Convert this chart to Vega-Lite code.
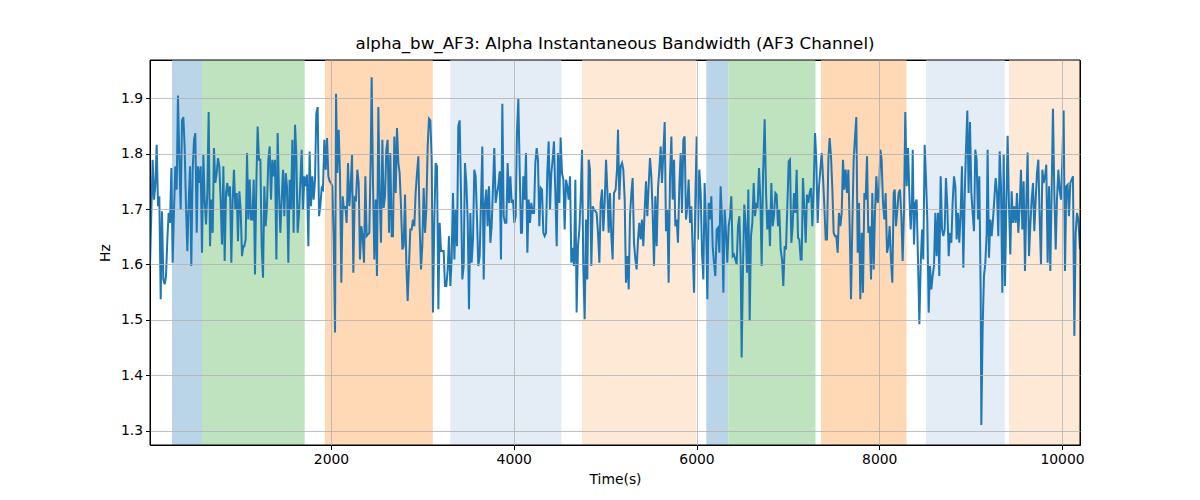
{
"$schema": "https://vega.github.io/schema/vega-lite/v6.json",
"width": 930,
"height": 385,
"autosize": "none",
"padding": {"left": 150, "top": 60, "right": 120, "bottom": 55},
"background": "white",
"title": {"text": "alpha_bw_AF3: Alpha Instantaneous Bandwidth (AF3 Channel)", "font": "DejaVu Sans", "fontSize": 16.7, "fontWeight": "normal", "color": "black", "offset": 7},
"config": {
  "view": {"stroke": "black", "strokeWidth": 1},
  "axis": {"labelFont": "DejaVu Sans", "titleFont": "DejaVu Sans", "labelFontSize": 13.9, "titleFontSize": 13.9, "titleFontWeight": "normal", "labelColor": "black", "titleColor": "black", "tickColor": "black", "tickSize": 4.5, "domain": false, "grid": true, "gridColor": "#b0b0b0", "gridWidth": 0.8}
},
"datasets": {
"bands": [
{"s": 260, "e": 588, "p": "A"},
{"s": 588, "e": 1712, "p": "B"},
{"s": 1934, "e": 3114, "p": "C"},
{"s": 3305, "e": 4522, "p": "D"},
{"s": 4747, "e": 5997, "p": "E"},
{"s": 6107, "e": 6347, "p": "A"},
{"s": 6347, "e": 7302, "p": "B"},
{"s": 7362, "e": 8298, "p": "C"},
{"s": 8512, "e": 9374, "p": "D"},
{"s": 9420, "e": 10197, "p": "E"}
],
"series": [
{"t":19,"v":1.597},{"t":48,"v":1.789},{"t":63,"v":1.717},{"t":77,"v":1.741},{"t":92,"v":1.816},{"t":107,"v":1.705},{"t":121,"v":1.723},{"t":136,"v":1.537},{"t":150,"v":1.696},{"t":165,"v":1.573},{"t":180,"v":1.564},{"t":194,"v":1.579},{"t":209,"v":1.645},{"t":223,"v":1.693},{"t":238,"v":1.675},{"t":253,"v":1.774},{"t":267,"v":1.603},{"t":282,"v":1.699},{"t":296,"v":1.777},{"t":311,"v":1.735},{"t":325,"v":1.905},{"t":340,"v":1.789},{"t":355,"v":1.699},{"t":369,"v":1.860},{"t":384,"v":1.866},{"t":398,"v":1.813},{"t":413,"v":1.705},{"t":428,"v":1.624},{"t":442,"v":1.711},{"t":457,"v":1.777},{"t":471,"v":1.597},{"t":486,"v":1.771},{"t":501,"v":1.825},{"t":515,"v":1.837},{"t":530,"v":1.657},{"t":544,"v":1.777},{"t":559,"v":1.747},{"t":574,"v":1.777},{"t":588,"v":1.621},{"t":603,"v":1.798},{"t":617,"v":1.717},{"t":632,"v":1.672},{"t":646,"v":1.729},{"t":661,"v":1.875},{"t":676,"v":1.633},{"t":690,"v":1.717},{"t":705,"v":1.657},{"t":719,"v":1.810},{"t":734,"v":1.747},{"t":749,"v":1.765},{"t":763,"v":1.792},{"t":778,"v":1.777},{"t":792,"v":1.717},{"t":807,"v":1.636},{"t":822,"v":1.777},{"t":836,"v":1.606},{"t":851,"v":1.729},{"t":865,"v":1.747},{"t":880,"v":1.723},{"t":895,"v":1.741},{"t":909,"v":1.603},{"t":924,"v":1.717},{"t":938,"v":1.771},{"t":953,"v":1.699},{"t":968,"v":1.729},{"t":982,"v":1.642},{"t":997,"v":1.732},{"t":1011,"v":1.699},{"t":1026,"v":1.615},
{"t":1040,"v":1.633},{"t":1051,"v":1.633},{"t":1066,"v":1.645},{"t":1081,"v":1.801},{"t":1095,"v":1.681},{"t":1110,"v":1.753},{"t":1124,"v":1.681},{"t":1139,"v":1.681},{"t":1154,"v":1.753},{"t":1168,"v":1.582},{"t":1183,"v":1.747},{"t":1197,"v":1.849},{"t":1212,"v":1.789},{"t":1227,"v":1.789},{"t":1241,"v":1.633},{"t":1256,"v":1.576},{"t":1270,"v":1.741},{"t":1285,"v":1.669},{"t":1299,"v":1.705},{"t":1314,"v":1.789},{"t":1329,"v":1.813},{"t":1343,"v":1.717},{"t":1358,"v":1.789},{"t":1372,"v":1.759},{"t":1387,"v":1.789},{"t":1402,"v":1.609},{"t":1416,"v":1.837},{"t":1431,"v":1.729},{"t":1445,"v":1.657},{"t":1460,"v":1.717},{"t":1475,"v":1.771},{"t":1489,"v":1.687},{"t":1504,"v":1.765},{"t":1518,"v":1.741},{"t":1533,"v":1.603},{"t":1547,"v":1.753},{"t":1562,"v":1.699},{"t":1577,"v":1.825},{"t":1591,"v":1.657},{"t":1606,"v":1.852},{"t":1620,"v":1.801},{"t":1635,"v":1.657},{"t":1650,"v":1.693},{"t":1664,"v":1.747},{"t":1679,"v":1.807},{"t":1693,"v":1.699},{"t":1708,"v":1.759},{"t":1723,"v":1.741},{"t":1737,"v":1.762},{"t":1752,"v":1.633},{"t":1766,"v":1.804},{"t":1781,"v":1.705},{"t":1796,"v":1.759},{"t":1810,"v":1.717},{"t":1825,"v":1.753},{"t":1839,"v":1.872},{"t":1854,"v":1.884},{"t":1869,"v":1.687},{"t":1883,"v":1.705},{"t":1898,"v":1.738},{"t":1912,"v":1.735},{"t":1927,"v":1.825},{"t":1942,"v":1.771},{"t":1956,"v":1.828},{"t":1971,"v":1.759},{"t":1985,"v":1.750},{"t":2000,"v":1.747},{"t":2014,"v":1.741},{"t":2029,"v":1.650},{"t":2044,"v":1.477},
{"t":2055,"v":1.908},{"t":2069,"v":1.765},{"t":2084,"v":1.843},{"t":2098,"v":1.765},{"t":2113,"v":1.567},{"t":2128,"v":1.723},{"t":2142,"v":1.699},{"t":2157,"v":1.705},{"t":2171,"v":1.675},{"t":2186,"v":1.783},{"t":2201,"v":1.705},{"t":2215,"v":1.741},{"t":2230,"v":1.798},{"t":2244,"v":1.585},{"t":2259,"v":1.720},{"t":2273,"v":1.717},{"t":2288,"v":1.771},{"t":2303,"v":1.747},{"t":2317,"v":1.609},{"t":2332,"v":1.669},{"t":2346,"v":1.651},{"t":2361,"v":1.603},{"t":2376,"v":1.759},{"t":2390,"v":1.651},{"t":2405,"v":1.654},{"t":2419,"v":1.657},{"t":2434,"v":1.789},{"t":2445,"v":1.938},{"t":2460,"v":1.741},{"t":2474,"v":1.609},{"t":2489,"v":1.717},{"t":2503,"v":1.579},{"t":2518,"v":1.884},{"t":2532,"v":1.729},{"t":2547,"v":1.639},{"t":2562,"v":1.825},{"t":2576,"v":1.702},{"t":2591,"v":1.723},{"t":2605,"v":1.807},{"t":2620,"v":1.825},{"t":2635,"v":1.657},{"t":2649,"v":1.801},{"t":2664,"v":1.651},{"t":2678,"v":1.651},{"t":2693,"v":1.831},{"t":2708,"v":1.729},{"t":2722,"v":1.846},{"t":2737,"v":1.783},{"t":2751,"v":1.765},{"t":2766,"v":1.705},{"t":2781,"v":1.627},{"t":2795,"v":1.633},{"t":2810,"v":1.726},{"t":2824,"v":1.603},{"t":2839,"v":1.534},{"t":2853,"v":1.597},{"t":2868,"v":1.663},{"t":2883,"v":1.663},{"t":2897,"v":1.681},{"t":2912,"v":1.669},{"t":2926,"v":1.729},{"t":2941,"v":1.765},{"t":2956,"v":1.795},{"t":2970,"v":1.669},{"t":2985,"v":1.591},{"t":2999,"v":1.633},{"t":3014,"v":1.738},{"t":3029,"v":1.657},{"t":3043,"v":1.699},{"t":3058,"v":1.813},{"t":3072,"v":1.863},
{"t":3087,"v":1.860},{"t":3102,"v":1.789},{"t":3116,"v":1.513},{"t":3131,"v":1.681},{"t":3145,"v":1.783},{"t":3160,"v":1.777},{"t":3175,"v":1.519},{"t":3189,"v":1.675},{"t":3204,"v":1.624},{"t":3218,"v":1.624},{"t":3233,"v":1.624},{"t":3247,"v":1.561},{"t":3262,"v":1.561},{"t":3277,"v":1.591},{"t":3291,"v":1.651},{"t":3306,"v":1.561},{"t":3320,"v":1.609},{"t":3335,"v":1.729},{"t":3350,"v":1.609},{"t":3364,"v":1.699},{"t":3379,"v":1.633},{"t":3393,"v":1.849},{"t":3408,"v":1.860},{"t":3423,"v":1.723},{"t":3437,"v":1.573},{"t":3452,"v":1.597},{"t":3466,"v":1.783},{"t":3481,"v":1.747},{"t":3496,"v":1.681},{"t":3510,"v":1.519},{"t":3525,"v":1.693},{"t":3539,"v":1.603},{"t":3554,"v":1.645},{"t":3568,"v":1.771},{"t":3583,"v":1.759},{"t":3598,"v":1.681},{"t":3612,"v":1.597},{"t":3627,"v":1.615},{"t":3642,"v":1.717},{"t":3656,"v":1.813},{"t":3671,"v":1.573},{"t":3685,"v":1.711},{"t":3700,"v":1.735},{"t":3714,"v":1.669},{"t":3729,"v":1.741},{"t":3744,"v":1.639},{"t":3758,"v":1.669},{"t":3773,"v":1.741},{"t":3787,"v":1.810},{"t":3802,"v":1.711},{"t":3817,"v":1.729},{"t":3831,"v":1.741},{"t":3846,"v":1.768},{"t":3860,"v":1.609},{"t":3875,"v":1.890},{"t":3890,"v":1.687},{"t":3904,"v":1.675},{"t":3919,"v":1.675},{"t":3933,"v":1.783},{"t":3948,"v":1.711},{"t":3963,"v":1.759},{"t":3977,"v":1.711},{"t":3992,"v":1.717},{"t":4006,"v":1.675},{"t":4021,"v":1.687},{"t":4035,"v":1.837},{"t":4050,"v":1.899},{"t":4065,"v":1.771},{"t":4079,"v":1.657},
{"t":4090,"v":1.657},{"t":4105,"v":1.759},{"t":4119,"v":1.717},{"t":4134,"v":1.801},{"t":4149,"v":1.621},{"t":4163,"v":1.717},{"t":4178,"v":1.675},{"t":4192,"v":1.711},{"t":4207,"v":1.693},{"t":4222,"v":1.693},{"t":4236,"v":1.783},{"t":4251,"v":1.810},{"t":4265,"v":1.789},{"t":4280,"v":1.669},{"t":4295,"v":1.738},{"t":4309,"v":1.735},{"t":4324,"v":1.657},{"t":4338,"v":1.651},{"t":4353,"v":1.657},{"t":4367,"v":1.765},{"t":4382,"v":1.822},{"t":4397,"v":1.699},{"t":4411,"v":1.765},{"t":4426,"v":1.789},{"t":4440,"v":1.822},{"t":4455,"v":1.729},{"t":4470,"v":1.633},{"t":4484,"v":1.801},{"t":4499,"v":1.711},{"t":4513,"v":1.829},{"t":4528,"v":1.765},{"t":4543,"v":1.753},{"t":4557,"v":1.663},{"t":4572,"v":1.753},{"t":4586,"v":1.741},{"t":4601,"v":1.717},{"t":4616,"v":1.759},{"t":4630,"v":1.603},{"t":4645,"v":1.630},{"t":4659,"v":1.597},{"t":4674,"v":1.753},{"t":4688,"v":1.513},{"t":4703,"v":1.633},{"t":4718,"v":1.663},{"t":4732,"v":1.717},{"t":4747,"v":1.807},{"t":4761,"v":1.597},{"t":4776,"v":1.501},{"t":4791,"v":1.681},{"t":4805,"v":1.573},{"t":4820,"v":1.789},{"t":4834,"v":1.771},{"t":4849,"v":1.597},{"t":4864,"v":1.705},{"t":4878,"v":1.699},{"t":4893,"v":1.696},{"t":4907,"v":1.693},{"t":4922,"v":1.657},{"t":4937,"v":1.603},{"t":4951,"v":1.711},{"t":4966,"v":1.735},{"t":4980,"v":1.660},{"t":4995,"v":1.711},{"t":5010,"v":1.789},{"t":5024,"v":1.735},{"t":5039,"v":1.657},{"t":5053,"v":1.729},{"t":5068,"v":1.651},{"t":5082,"v":1.609},{"t":5097,"v":1.729},
{"t":5115,"v":1.735},{"t":5130,"v":1.771},{"t":5141,"v":1.843},{"t":5155,"v":1.717},{"t":5170,"v":1.777},{"t":5185,"v":1.783},{"t":5199,"v":1.771},{"t":5214,"v":1.717},{"t":5228,"v":1.567},{"t":5243,"v":1.615},{"t":5258,"v":1.555},{"t":5272,"v":1.687},{"t":5287,"v":1.729},{"t":5301,"v":1.756},{"t":5316,"v":1.639},{"t":5331,"v":1.609},{"t":5345,"v":1.591},{"t":5360,"v":1.645},{"t":5374,"v":1.675},{"t":5389,"v":1.645},{"t":5403,"v":1.681},{"t":5418,"v":1.633},{"t":5433,"v":1.699},{"t":5447,"v":1.750},{"t":5462,"v":1.687},{"t":5476,"v":1.741},{"t":5491,"v":1.792},{"t":5506,"v":1.759},{"t":5520,"v":1.693},{"t":5535,"v":1.597},{"t":5549,"v":1.723},{"t":5564,"v":1.633},{"t":5579,"v":1.738},{"t":5593,"v":1.771},{"t":5608,"v":1.813},{"t":5622,"v":1.747},{"t":5637,"v":1.801},{"t":5652,"v":1.857},{"t":5666,"v":1.660},{"t":5681,"v":1.699},{"t":5695,"v":1.567},{"t":5710,"v":1.759},{"t":5725,"v":1.831},{"t":5739,"v":1.717},{"t":5754,"v":1.789},{"t":5768,"v":1.669},{"t":5783,"v":1.681},{"t":5797,"v":1.639},{"t":5812,"v":1.741},{"t":5827,"v":1.801},{"t":5841,"v":1.693},{"t":5856,"v":1.825},{"t":5870,"v":1.831},{"t":5885,"v":1.681},{"t":5900,"v":1.705},{"t":5914,"v":1.753},{"t":5929,"v":1.675},{"t":5943,"v":1.705},{"t":5958,"v":1.627},{"t":5973,"v":1.549},{"t":5987,"v":1.717},{"t":6002,"v":1.831},{"t":6016,"v":1.645},{"t":6031,"v":1.771},{"t":6046,"v":1.729},{"t":6060,"v":1.621},{"t":6075,"v":1.573},{"t":6089,"v":1.747},{"t":6104,"v":1.669},{"t":6119,"v":1.537},
{"t":6133,"v":1.711},{"t":6148,"v":1.681},{"t":6162,"v":1.723},{"t":6177,"v":1.633},{"t":6191,"v":1.603},{"t":6206,"v":1.579},{"t":6221,"v":1.663},{"t":6235,"v":1.666},{"t":6250,"v":1.621},{"t":6264,"v":1.741},{"t":6279,"v":1.681},{"t":6294,"v":1.549},{"t":6308,"v":1.699},{"t":6323,"v":1.657},{"t":6337,"v":1.603},{"t":6352,"v":1.669},{"t":6367,"v":1.687},{"t":6381,"v":1.723},{"t":6396,"v":1.615},{"t":6410,"v":1.618},{"t":6425,"v":1.609},{"t":6440,"v":1.600},{"t":6454,"v":1.669},{"t":6469,"v":1.687},{"t":6483,"v":1.609},{"t":6494,"v":1.432},{"t":6509,"v":1.597},{"t":6523,"v":1.708},{"t":6538,"v":1.669},{"t":6553,"v":1.585},{"t":6567,"v":1.735},{"t":6582,"v":1.498},{"t":6596,"v":1.651},{"t":6611,"v":1.675},{"t":6626,"v":1.747},{"t":6640,"v":1.687},{"t":6655,"v":1.708},{"t":6669,"v":1.705},{"t":6684,"v":1.774},{"t":6699,"v":1.717},{"t":6713,"v":1.597},{"t":6728,"v":1.759},{"t":6746,"v":1.862},{"t":6761,"v":1.729},{"t":6775,"v":1.663},{"t":6790,"v":1.699},{"t":6804,"v":1.633},{"t":6819,"v":1.747},{"t":6834,"v":1.669},{"t":6848,"v":1.687},{"t":6863,"v":1.729},{"t":6877,"v":1.726},{"t":6892,"v":1.669},{"t":6906,"v":1.699},{"t":6921,"v":1.627},{"t":6936,"v":1.609},{"t":6950,"v":1.561},{"t":6965,"v":1.633},{"t":6979,"v":1.627},{"t":6994,"v":1.705},{"t":7009,"v":1.786},{"t":7023,"v":1.789},{"t":7038,"v":1.639},{"t":7052,"v":1.669},{"t":7067,"v":1.729},{"t":7082,"v":1.693},{"t":7096,"v":1.771},{"t":7111,"v":1.648},{"t":7125,"v":1.645},{"t":7140,"v":1.609},
{"t":7151,"v":1.609},{"t":7165,"v":1.756},{"t":7180,"v":1.699},{"t":7195,"v":1.639},{"t":7209,"v":1.726},{"t":7224,"v":1.711},{"t":7238,"v":1.729},{"t":7253,"v":1.738},{"t":7268,"v":1.669},{"t":7282,"v":1.735},{"t":7297,"v":1.837},{"t":7311,"v":1.789},{"t":7326,"v":1.675},{"t":7341,"v":1.741},{"t":7355,"v":1.771},{"t":7370,"v":1.801},{"t":7384,"v":1.759},{"t":7399,"v":1.705},{"t":7414,"v":1.645},{"t":7428,"v":1.645},{"t":7443,"v":1.789},{"t":7457,"v":1.828},{"t":7472,"v":1.795},{"t":7487,"v":1.735},{"t":7501,"v":1.657},{"t":7516,"v":1.651},{"t":7530,"v":1.651},{"t":7545,"v":1.621},{"t":7559,"v":1.693},{"t":7574,"v":1.669},{"t":7589,"v":1.693},{"t":7603,"v":1.789},{"t":7618,"v":1.735},{"t":7632,"v":1.771},{"t":7647,"v":1.729},{"t":7662,"v":1.771},{"t":7676,"v":1.669},{"t":7691,"v":1.537},{"t":7705,"v":1.669},{"t":7720,"v":1.789},{"t":7735,"v":1.831},{"t":7749,"v":1.866},{"t":7764,"v":1.621},{"t":7778,"v":1.711},{"t":7793,"v":1.537},{"t":7808,"v":1.657},{"t":7822,"v":1.549},{"t":7837,"v":1.729},{"t":7851,"v":1.717},{"t":7866,"v":1.795},{"t":7880,"v":1.657},{"t":7895,"v":1.669},{"t":7910,"v":1.573},{"t":7924,"v":1.729},{"t":7939,"v":1.591},{"t":7953,"v":1.693},{"t":7968,"v":1.759},{"t":7983,"v":1.711},{"t":7997,"v":1.729},{"t":8012,"v":1.807},{"t":8026,"v":1.789},{"t":8041,"v":1.711},{"t":8056,"v":1.681},{"t":8070,"v":1.729},{"t":8085,"v":1.621},{"t":8099,"v":1.633},{"t":8114,"v":1.669},{"t":8128,"v":1.609},{"t":8143,"v":1.567},{"t":8158,"v":1.729},
{"t":8169,"v":1.735},{"t":8183,"v":1.669},{"t":8198,"v":1.699},{"t":8212,"v":1.729},{"t":8227,"v":1.735},{"t":8242,"v":1.687},{"t":8256,"v":1.606},{"t":8271,"v":1.699},{"t":8285,"v":1.875},{"t":8300,"v":1.741},{"t":8315,"v":1.810},{"t":8329,"v":1.729},{"t":8344,"v":1.663},{"t":8358,"v":1.711},{"t":8366,"v":1.807},{"t":8380,"v":1.636},{"t":8395,"v":1.711},{"t":8409,"v":1.717},{"t":8424,"v":1.609},{"t":8439,"v":1.492},{"t":8453,"v":1.597},{"t":8468,"v":1.663},{"t":8482,"v":1.609},{"t":8497,"v":1.816},{"t":8512,"v":1.753},{"t":8526,"v":1.681},{"t":8541,"v":1.513},{"t":8555,"v":1.597},{"t":8570,"v":1.555},{"t":8584,"v":1.579},{"t":8599,"v":1.597},{"t":8614,"v":1.693},{"t":8628,"v":1.615},{"t":8643,"v":1.693},{"t":8657,"v":1.579},{"t":8672,"v":1.759},{"t":8687,"v":1.663},{"t":8701,"v":1.651},{"t":8716,"v":1.663},{"t":8730,"v":1.756},{"t":8745,"v":1.705},{"t":8760,"v":1.615},{"t":8774,"v":1.657},{"t":8789,"v":1.639},{"t":8803,"v":1.711},{"t":8818,"v":1.759},{"t":8833,"v":1.741},{"t":8847,"v":1.645},{"t":8862,"v":1.693},{"t":8876,"v":1.639},{"t":8891,"v":1.693},{"t":8905,"v":1.777},{"t":8920,"v":1.594},{"t":8935,"v":1.723},{"t":8949,"v":1.807},{"t":8964,"v":1.878},{"t":8978,"v":1.729},{"t":8993,"v":1.857},{"t":9008,"v":1.729},{"t":9022,"v":1.693},{"t":9037,"v":1.660},{"t":9051,"v":1.807},{"t":9066,"v":1.789},{"t":9081,"v":1.681},{"t":9095,"v":1.759},{"t":9110,"v":1.549},{"t":9117,"v":1.310},{"t":9132,"v":1.489},{"t":9146,"v":1.579},{"t":9161,"v":1.603},{"t":9176,"v":1.657},
{"t":9186,"v":1.807},{"t":9201,"v":1.612},{"t":9216,"v":1.681},{"t":9230,"v":1.651},{"t":9245,"v":1.681},{"t":9259,"v":1.717},{"t":9274,"v":1.756},{"t":9289,"v":1.729},{"t":9303,"v":1.651},{"t":9318,"v":1.804},{"t":9332,"v":1.741},{"t":9347,"v":1.549},{"t":9362,"v":1.798},{"t":9376,"v":1.561},{"t":9391,"v":1.711},{"t":9405,"v":1.832},{"t":9420,"v":1.705},{"t":9434,"v":1.618},{"t":9449,"v":1.732},{"t":9464,"v":1.675},{"t":9478,"v":1.705},{"t":9493,"v":1.675},{"t":9507,"v":1.729},{"t":9522,"v":1.657},{"t":9537,"v":1.705},{"t":9551,"v":1.771},{"t":9566,"v":1.663},{"t":9580,"v":1.750},{"t":9595,"v":1.588},{"t":9610,"v":1.717},{"t":9624,"v":1.802},{"t":9639,"v":1.615},{"t":9653,"v":1.669},{"t":9668,"v":1.717},{"t":9683,"v":1.747},{"t":9697,"v":1.660},{"t":9712,"v":1.717},{"t":9726,"v":1.765},{"t":9741,"v":1.789},{"t":9755,"v":1.687},{"t":9770,"v":1.600},{"t":9785,"v":1.771},{"t":9799,"v":1.747},{"t":9814,"v":1.759},{"t":9828,"v":1.780},{"t":9843,"v":1.603},{"t":9858,"v":1.741},{"t":9872,"v":1.588},{"t":9887,"v":1.735},{"t":9901,"v":1.881},{"t":9916,"v":1.729},{"t":9931,"v":1.627},{"t":9945,"v":1.717},{"t":9960,"v":1.771},{"t":9974,"v":1.735},{"t":9989,"v":1.717},{"t":10004,"v":1.789},{"t":10018,"v":1.878},{"t":10033,"v":1.588},{"t":10047,"v":1.741},{"t":10062,"v":1.744},{"t":10076,"v":1.687},{"t":10091,"v":1.747},{"t":10106,"v":1.753},{"t":10120,"v":1.759},{"t":10135,"v":1.471},{"t":10150,"v":1.657},{"t":10164,"v":1.693},{"t":10179,"v":1.681},{"t":10197,"v":1.627}
]
},
"layer": [
{
  "data": {"name": "bands"},
  "mark": {"type": "rect", "opacity": 1},
  "encoding": {
    "x": {"field": "s", "type": "quantitative", "scale": {"domain": [19, 10197], "nice": false, "zero": false}, "axis": {"title": "Time(s)", "values": [2000, 4000, 6000, 8000, 10000], "format": "d", "labelPadding": 3, "titlePadding": 6, "zindex": 1}},
    "x2": {"field": "e"},
    "color": {"field": "p", "type": "nominal", "scale": {"domain": ["A", "B", "C", "D", "E"], "range": ["#bbd5e8", "#bfe2bf", "#ffd8b6", "#e4ecf6", "#fee9d7"]}, "legend": null}
  }
},
{
  "data": {"name": "series"},
  "mark": {"type": "line", "color": "#1f77b4", "strokeWidth": 2, "clip": true},
  "encoding": {
    "x": {"field": "t", "type": "quantitative"},
    "y": {"field": "v", "type": "quantitative", "scale": {"domain": [1.274, 1.969], "nice": false, "zero": false}, "axis": {"title": "Hz", "values": [1.3, 1.4, 1.5, 1.6, 1.7, 1.8, 1.9], "format": ".1f", "labelPadding": 3, "titlePadding": 8, "zindex": 1}}
  }
},
{
  "data": {"values": [{}]},
  "mark": {"type": "rect", "fill": null, "fillOpacity": 0, "stroke": "black", "strokeWidth": 1},
  "encoding": {
    "x": {"datum": 19, "type": "quantitative"},
    "x2": {"datum": 10197}
  }
}
]
}
